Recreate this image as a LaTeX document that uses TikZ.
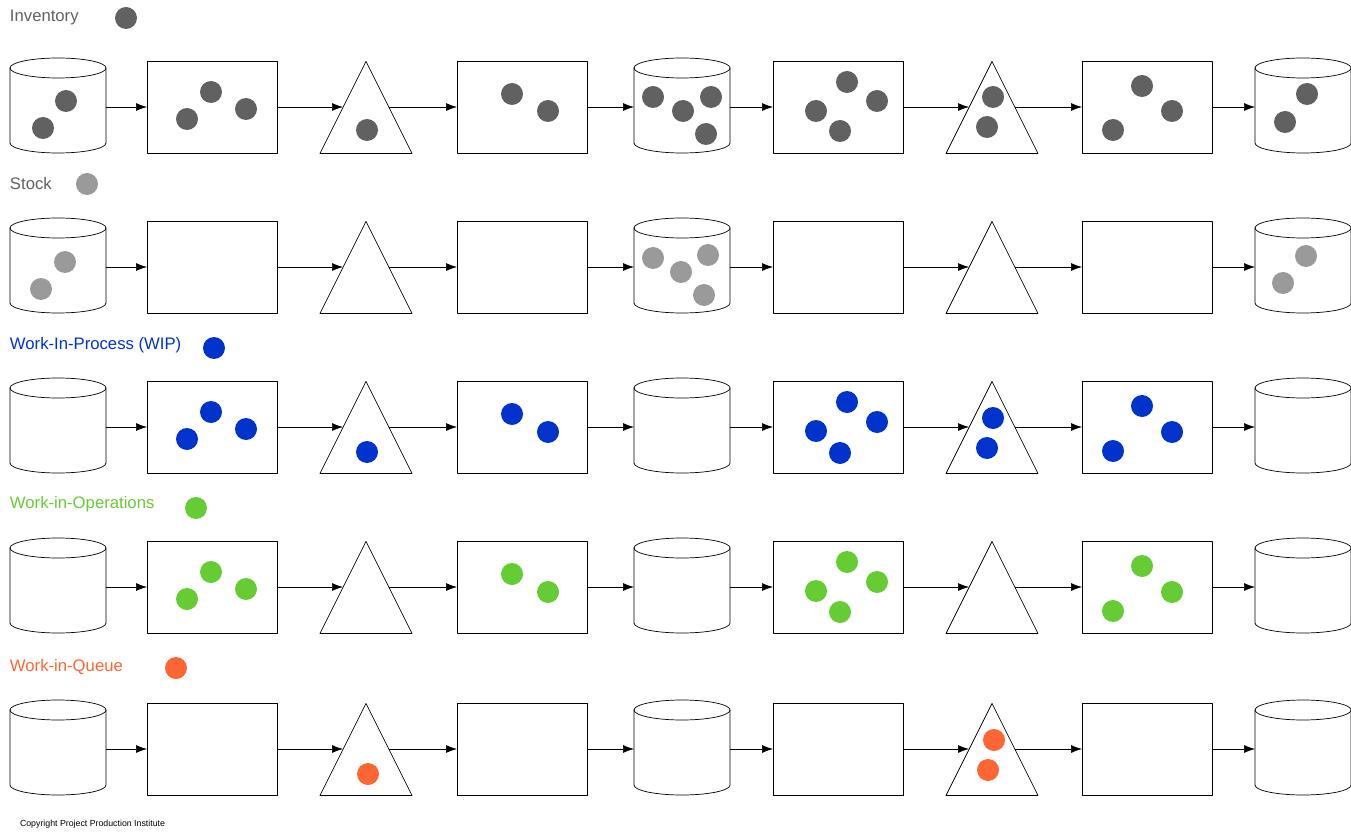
\documentclass[tikz,border=0pt]{standalone}
\usepackage{fontspec}
\setmainfont{Liberation Sans}
\usetikzlibrary{%
  arrows.meta,%
  shapes.geometric,% isosceles triangle
  positioning%
}
\definecolor{invgrey}{HTML}{616161}
\definecolor{stockgrey}{HTML}{9A9A9A}
\definecolor{wipblue}{HTML}{0033CC}
\definecolor{wiogreen}{HTML}{66CC33}
\definecolor{wiqorange}{HTML}{FF6633}

\begin{document}
\begin{tikzpicture}[
    x=0.02cm,y=-0.02cm,
    >={Latex[length=2.2mm,width=1.6mm]},
    line join=round,
    every node/.style={inner sep=0pt,outer sep=0pt},
    store/.style={rectangle,minimum width=1.92cm,minimum height=1.9cm},
    work/.style={rectangle,draw,minimum width=2.6cm,minimum height=1.84cm},
    wait/.style={isosceles triangle,draw,shape border rotate=90,yshift=-0.36cm,
        isosceles triangle stretches,minimum width=1.84cm,minimum height=1.84cm},
    flow/.style={->,thin},
    head/.style={anchor=west,font=\fontsize{9.5}{12}\selectfont},
  ]
    \useasboundingbox (0,0) rectangle (1351,834);

    % five rows of the same line
    \foreach \r/\yy in {1/107,2/267,3/427,4/587,5/749}{
      \foreach \i/\xx/\kind/\half in {1/58/store/48,2/212/work/65,3/366/wait/23,
          4/522/work/65,5/682/store/48,6/838/work/65,7/992/wait/23,
          8/1147/work/65,9/1303/store/48}{
        \node[\kind] (s\r-\i) at (\xx,\yy) {};
        \coordinate (in\r-\i)  at (\xx-\half,\yy);
        \coordinate (out\r-\i) at (\xx+\half,\yy);
      }
      % the stores
      \foreach \xx in {58,682,1303}{
        \draw (\xx-48,\yy-39) -- (\xx-48,\yy+36)
          arc[start angle=180,end angle=0,x radius=48,y radius=10]
          -- (\xx+48,\yy-39);
        \draw (\xx,\yy-39) ellipse[x radius=48,y radius=10];
      }
      \foreach \i [evaluate=\i as \j using int(\i+1)] in {1,...,8}{
        \draw[flow] (out\r-\i) -- (in\r-\j);
      }
    }

    % row titles
    \node[head,text=invgrey]   (inv) at (10,17)  {Inventory};
    \node[head,text=invgrey]   (stk) at (10,184) {Stock};
    \node[head,text=wipblue]   (wip) at (10,345) {Work-In-Process (WIP)};
    \node[head,text=wiogreen]  (wio) at (10,504) {Work-in-Operations};
    \node[head,text=wiqorange] (wiq) at (10,667) {Work-in-Queue};
    \node[anchor=south west,font=\fontsize{5}{6}\selectfont] (copy) at (20,828)
      {Copyright Project Production Institute};

    % legend dots
    \fill[invgrey]   (126,18)  circle (11);
    \fill[stockgrey] (87,184)  circle (11);
    \fill[wipblue]   (214,348) circle (11);
    \fill[wiogreen]  (196,508) circle (11);
    \fill[wiqorange] (176,668) circle (11);

    % inventory
    \foreach \p in {(66,101),(43,128),(211,92),(187,119),(246,109),(367,130),
        (512,94),(548,111),(653,97),(683,111),(711,97),(706,134),
        (847,82),(877,101),(816,111),(840,131),(993,97),(987,127),
        (1142,86),(1172,111),(1113,130),(1307,94),(1285,122)}
      \fill[invgrey] \p circle (11);
    % stock
    \foreach \p in {(65,262),(41,289),(653,258),(681,272),(708,255),(704,295),
        (1306,256),(1283,283)}
      \fill[stockgrey] \p circle (11);
    % work in process
    \foreach \p in {(211,412),(187,439),(246,429),(367,452),(512,414),(548,432),
        (847,402),(877,422),(816,431),(840,453),(993,418),(987,448),
        (1142,406),(1172,432),(1113,451)}
      \fill[wipblue] \p circle (11);
    % work in operations
    \foreach \p in {(211,572),(187,599),(246,589),(512,574),(548,592),
        (847,562),(877,582),(816,591),(840,612),(1142,566),(1172,592),(1113,611)}
      \fill[wiogreen] \p circle (11);
    % work in queue
    \foreach \p in {(368,774),(994,740),(988,770)}
      \fill[wiqorange] \p circle (11);
\end{tikzpicture}
\end{document}
